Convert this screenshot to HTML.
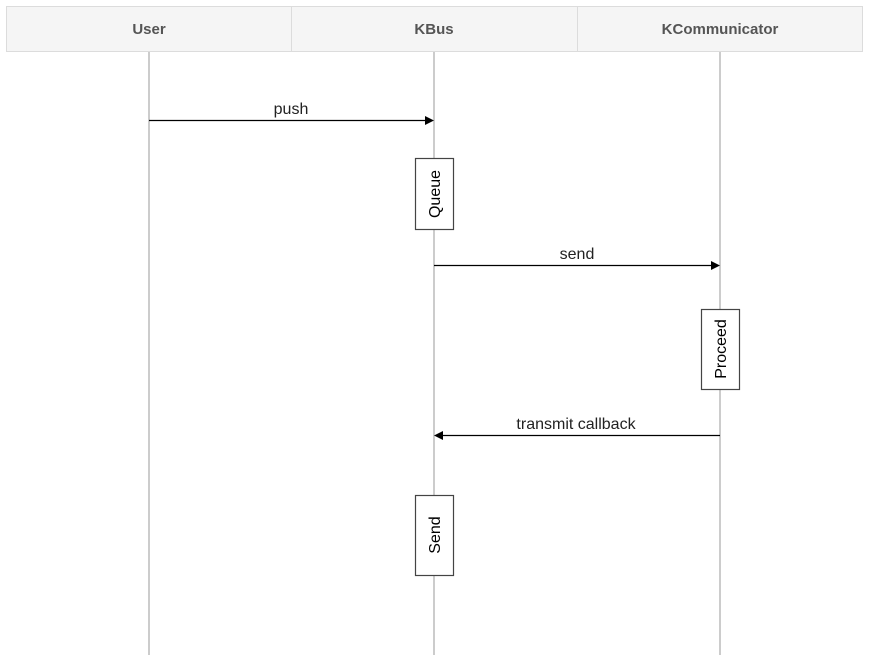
<!DOCTYPE html>
<html><head><style>body{margin:0;background:#fff}</style></head><body>
<svg width="869" height="666" xmlns="http://www.w3.org/2000/svg" font-family="Liberation Sans, sans-serif">
<rect x="6.5" y="6.5" width="856" height="45" fill="#f5f5f5" stroke="#dcdcdc"/>
<line x1="291.5" y1="6" x2="291.5" y2="51" stroke="#dcdcdc"/>
<line x1="577.5" y1="6" x2="577.5" y2="51" stroke="#dcdcdc"/>
<g font-size="15" font-weight="bold" fill="#555" text-anchor="middle">
<text x="149" y="34">User</text><text x="434" y="34">KBus</text><text x="720" y="34">KCommunicator</text>
</g>
<g stroke="#aaa" stroke-width="1.2">
<line x1="149" y1="52" x2="149" y2="655"/><line x1="434" y1="52" x2="434" y2="655"/><line x1="720" y1="52" x2="720" y2="655"/>
</g>
<g stroke="#000" stroke-width="1.2">
<line x1="149" y1="120.5" x2="426" y2="120.5"/>
<line x1="434" y1="265.5" x2="712" y2="265.5"/>
<line x1="442" y1="435.5" x2="720" y2="435.5"/>
</g>
<polygon points="434,120.5 425,116 425,125" fill="#000"/>
<polygon points="720,265.5 711,261 711,270" fill="#000"/>
<polygon points="434,435.5 443,431 443,440" fill="#000"/>
<g font-size="16" fill="#222" text-anchor="middle">
<text x="291" y="114">push</text><text x="577" y="259">send</text><text x="576" y="429">transmit callback</text>
</g>
<g fill="#fff" stroke="#444" stroke-width="1.2">
<rect x="415.5" y="158.5" width="38" height="71"/>
<rect x="701.5" y="309.5" width="38" height="80"/>
<rect x="415.5" y="495.5" width="38" height="80"/>
</g>
<g font-size="16" fill="#000" text-anchor="middle">
<text transform="translate(440,194) rotate(-90)">Queue</text>
<text transform="translate(726,349) rotate(-90)">Proceed</text>
<text transform="translate(440,535) rotate(-90)">Send</text>
</g>
</svg>
</body></html>
